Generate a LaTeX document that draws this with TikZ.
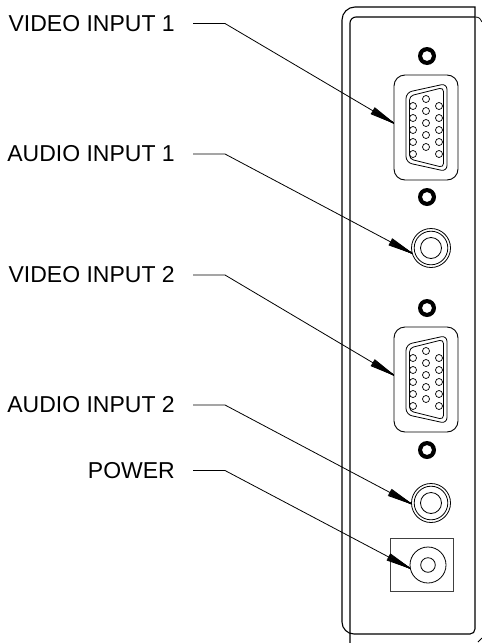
\documentclass[tikz,border=0pt]{standalone}
\usepackage{fontspec}
\setmainfont{Liberation Sans}
\usetikzlibrary{calc}
\begin{document}
\begin{tikzpicture}[x=1pt,y=1pt,
  panel/.style={line width=1.1pt},
  lbl/.style={font=\fontsize{23pt}{27pt}\selectfont, anchor=east, inner sep=0pt},
  lead/.style={line width=0.8pt},
  fanline/.style={line width=0.8pt, line cap=round},
  led/.style={circle, minimum size=18pt, inner sep=0pt},
  vgashell/.style={draw, line width=0.9pt, rounded corners=11pt, minimum width=64pt, minimum height=105pt, inner sep=0pt},
  jack/.style={circle, draw, line width=0.8pt, minimum size=39pt, inner sep=0pt},
  pwrbox/.style={draw, line width=0.9pt, draw=black!75, minimum width=63pt, minimum height=53pt, inner sep=0pt},
  pwrjack/.style={circle, draw, line width=0.8pt, minimum size=36pt, inner sep=0pt},
  pinc/.style={line width=0.7pt},
  dsub/.pic={
    \draw[line width=0.8pt, rounded corners=6pt] (-20,35) -- (21,44) -- (21,-44) -- (-20,-35) -- cycle;
    \draw[line width=0.8pt, rounded corners=4pt] (-16.5,31.5) -- (17.5,40) -- (17.5,-40) -- (-16.5,-31.5) -- cycle;
    \foreach \yy in {21.5,9.5,-2.5,-14.5,-26.5} {
      \draw[pinc] (-13,\yy) circle (3.5pt);
      \draw[pinc] (13,\yy) circle (3.5pt);
    }
    \foreach \yy in {28.5,16.5,4.5,-7.5,-19.5} \draw[pinc] (0,\yy) circle (3.5pt);
  },
  ledring/.pic={
    \fill[even odd rule] (0,0) circle (9pt) (0,0) circle (5pt);
  }]
\useasboundingbox (0,-643) rectangle (482,0);
\fill[white] (0,-643) rectangle (482,0);

% panel outline
\draw[panel] (475,-17) -- (475,-7) -- (355,-7) arc[start angle=90, end angle=180, radius=13pt]
  -- (342,-622) arc[start angle=180, end angle=270, radius=12pt] -- (470,-634)
  arc[start angle=270, end angle=360, radius=5pt] -- cycle;
\draw[panel] (350,-643) -- (350,-23) arc[start angle=180, end angle=90, radius=6pt] -- (475,-17);
\draw[line width=0.8pt] (475.5,-17) .. controls (479,-17) and (481,-19) .. (482,-22);
\draw[line width=0.8pt] (478,-642) -- (482,-638);

% components
\node[led] (d1) at (427,-56) {};
\pic at (d1.center) {ledring};
\node[vgashell] (v1) at (426,-127.5) {};
\pic at (v1.center) {dsub};
\node[led] (d2) at (427,-197) {};
\pic at (d2.center) {ledring};
\node[jack] (a1) at (431,-248) {};
\draw[line width=0.8pt] (a1.center) circle (16.8pt);
\draw[line width=0.8pt] (a1.center) circle (10.5pt);
\node[led] (d3) at (427,-308) {};
\pic at (d3.center) {ledring};
\node[vgashell] (v2) at (426,-379.5) {};
\pic at (v2.center) {dsub};
\node[led] (d4) at (427,-450) {};
\pic at (d4.center) {ledring};
\node[jack] (a2) at (431,-503) {};
\draw[line width=0.8pt] (a2.center) circle (16.8pt);
\draw[line width=0.8pt] (a2.center) circle (10.5pt);
\node[pwrbox] (pb) at (421.5,-564.5) {};
\node[pwrjack] (pw) at (428,-565) {};
\draw[line width=0.8pt] (pw.center) circle (7.3pt);

% labels
\node[lbl] (t1) at (175,-23.5) {VIDEO INPUT 1};
\node[lbl] (t2) at (175,-154) {AUDIO INPUT 1};
\node[lbl] (t3) at (175,-275) {VIDEO INPUT 2};
\node[lbl] (t4) at (175,-405) {AUDIO INPUT 2};
\node[lbl] (t5) at (175,-470.5) {POWER};

\coordinate (e1) at (225,-23.5);
\coordinate (e2) at (225,-154);
\coordinate (e3) at (225,-275);
\coordinate (e4) at (225,-405);
\coordinate (e5) at (225,-470.5);

\coordinate (h1) at ([yshift=4.5pt]v1.west);
\coordinate (h2) at (a1.195);
\coordinate (h3) at ([yshift=4.5pt]v2.west);
\coordinate (h4) at (a2.182);
\coordinate (h5) at (pw.190);

\draw[lead] ([xshift=18pt]t1.east) -- (e1) -- (h1);
\draw[lead] ([xshift=18pt]t2.east) -- (e2) -- (h2);
\draw[lead] ([xshift=18pt]t3.east) -- (e3) -- (h3);
\draw[lead] ([xshift=18pt]t4.east) -- (e4) -- (h4);
\draw[lead] ([xshift=18pt]t5.east) -- (e5) -- (h5);

% arrowheads drawn as a fan of strokes
\foreach \i in {1,...,5} {
  \coordinate (b\i) at ($(h\i)!24pt!(e\i)$);
  \foreach \k in {-3.6,-3,-2.4,-1.8,-1.2,-0.6,0,0.6,1.2,1.8,2.4,3,3.6} {
    \draw[fanline] (h\i) -- ($(b\i)!\k pt!90:(h\i)$);
  }
}
\end{tikzpicture}
\end{document}
